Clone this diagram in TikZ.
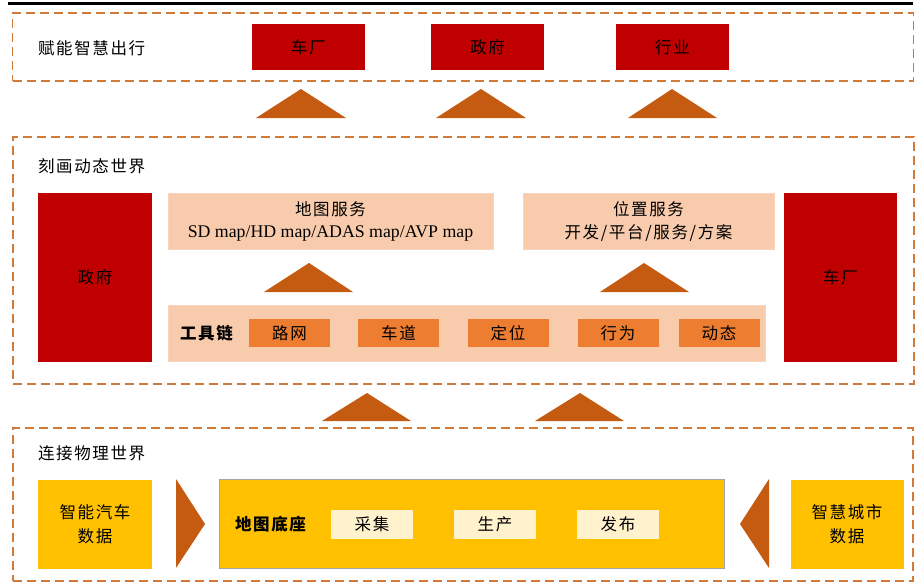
\documentclass[tikz,border=0pt]{standalone}
\usepackage{fontspec}
\setmainfont{Liberation Serif}
\newfontfamily\cjk[LetterSpace=10]{Noto Sans CJK SC}
\definecolor{darkred}{HTML}{C00000}
\definecolor{dashc}{HTML}{D27A3A}
\definecolor{tri}{HTML}{C55A11}
\definecolor{peach}{HTML}{F8CBAD}
\definecolor{orng}{HTML}{ED7D31}
\definecolor{yel}{HTML}{FFC000}
\definecolor{cream}{HTML}{FFF2CC}
\begin{document}
\begin{tikzpicture}[x=1pt,y=-1pt,
  every node/.style={inner sep=0pt, outer sep=0pt, font=\cjk\fontsize{16.5}{20}\selectfont},
  layer/.style={draw=dashc, dash pattern=on 9pt off 5pt, line width=1.3pt, fill=white},
  title/.style={anchor=west},
  redbox/.style={fill=darkred, text=black},
  peachbox/.style={fill=peach, draw=peach!80!white, align=center},
  tool/.style={fill=orng, minimum width=81pt, minimum height=28pt},
  yelbox/.style={fill=yel, align=center},
  cbox/.style={fill=cream, minimum width=82pt, minimum height=29pt},
  tri/.style={fill=tri, draw=none}
]
\useasboundingbox (0,0) rectangle (922,584);
% top rule
\draw[line width=3pt] (8,3) -- (913,3);

% ---- layer 1
\node[layer, minimum width=901pt, minimum height=68pt] (L1) at (463,47) {};
\node[title] (t1) at (38,48) {赋能智慧出行};
\node[redbox, minimum width=113pt, minimum height=46pt] (r1) at (308.5,47) {车厂};
\node[redbox, minimum width=113pt, minimum height=46pt] (r2) at (487.5,47) {政府};
\node[redbox, minimum width=113pt, minimum height=46pt] (r3) at (672.5,47) {行业};

% triangles layer2 -> layer1
\fill[tri] (256,118) -- (301,89) -- (346,118) -- cycle;
\fill[tri] (436,118) -- (481,89) -- (526,118) -- cycle;
\fill[tri] (628,118) -- (672,89) -- (717,118) -- cycle;

% ---- layer 2
\node[layer, minimum width=901pt, minimum height=247pt] (L2) at (463.5,260.5) {};
\node[title] (t2) at (38,166) {刻画动态世界};
\node[redbox, minimum width=114pt, minimum height=169pt] (g2) at (95,277.5) {政府};
\node[redbox, minimum width=113pt, minimum height=169pt] (c2) at (840.5,277.5) {车厂};
\node[peachbox, minimum width=325pt, minimum height=56pt] (map) at (330.5,221)
  {地图服务\\[2pt]{\rmfamily\fontsize{17.8}{20}\selectfont SD map/HD map/ADAS map/AVP map}};
\node[peachbox, minimum width=251pt, minimum height=56pt] (loc) at (648.5,221)
  {位置服务\\[3pt]开发/平台/服务/方案};
\fill[tri] (264,292) -- (309,263) -- (353,292) -- cycle;
\fill[tri] (600,292) -- (644,263) -- (689,292) -- cycle;
\node[peachbox, minimum width=597pt, minimum height=56pt] (chain) at (466.5,333) {};
\node[anchor=west, font=\cjk\bfseries\fontsize{16.5}{20}\selectfont] (cl) at (180,333) {工具链};
\node[tool] (k1) at (289.5,333) {路网};
\node[tool] (k2) at (398.5,333) {车道};
\node[tool] (k3) at (508,333) {定位};
\node[tool] (k4) at (618,333) {行为};
\node[tool] (k5) at (719,333) {动态};

% triangles layer3 -> layer2
\fill[tri] (322,421) -- (367,393) -- (411,421) -- cycle;
\fill[tri] (535,421) -- (580,393) -- (624,421) -- cycle;

% ---- layer 3
\node[layer, minimum width=900pt, minimum height=153pt] (L3) at (463,504.5) {};
\node[title] (t3) at (38,453) {连接物理世界};
\node[yelbox, minimum width=114pt, minimum height=89pt] (car) at (95,524) {智能汽车\\[4pt]数据};
\node[yelbox, minimum width=113pt, minimum height=89pt] (city) at (847,524) {智慧城市\\[4pt]数据};
\node[fill=yel, draw=gray!70, line width=0.6pt, minimum width=505pt, minimum height=89pt] (base) at (471.5,524) {};
\node[anchor=west, font=\cjk\bfseries\fontsize{16.5}{20}\selectfont] (bl) at (235,524) {地图底座};
\node[cbox] (s1) at (372,524) {采集};
\node[cbox] (s2) at (495,524) {生产};
\node[cbox] (s3) at (618,524) {发布};
\fill[tri] (176,479) -- (205,524) -- (176,568) -- cycle;
\fill[tri] (769,479) -- (740,524) -- (769,568) -- cycle;
\end{tikzpicture}
\end{document}
